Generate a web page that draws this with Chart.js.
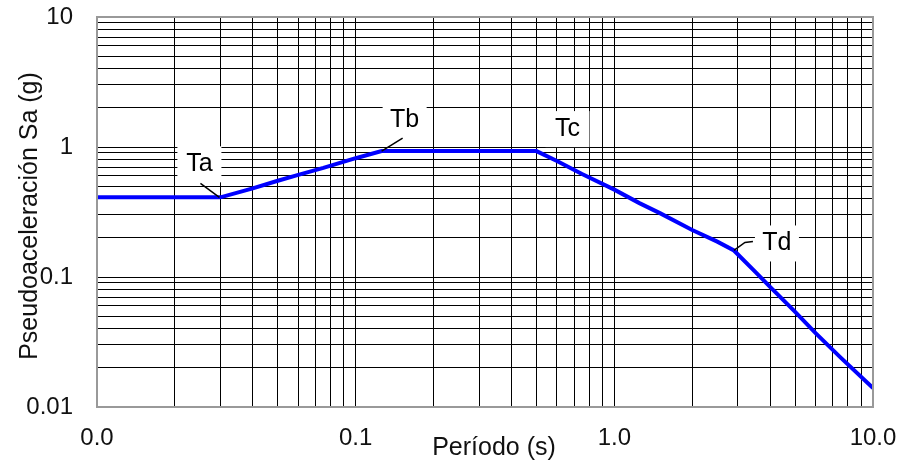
<!DOCTYPE html>
<html>
<head>
<meta charset="utf-8">
<script src="https://cdn.jsdelivr.net/npm/chart.js"></script>
<style>
  html, body { margin: 0; padding: 0; background: #fff; }
  #wrap { width: 900px; height: 463px; }
</style>
</head>
<body>
<div id="wrap"><canvas id="espectro"></canvas></div>
<script>
// Espectro de diseño (log-log)
const periodos   = [0.01, 0.02, 0.03, 0.04, 0.05, 0.06, 0.075, 0.1, 0.126, 0.2, 0.3, 0.4, 0.5,
                    0.6, 0.75, 1.0, 1.25, 1.5, 2.0, 2.5, 2.9, 3.5, 4.0, 5.0, 6.0, 7.5, 10.0];
const pseudoAcel = [0.41, 0.41, 0.41, 0.48, 0.55, 0.61, 0.69, 0.82, 0.93, 0.93, 0.93, 0.93, 0.93,
                    0.78, 0.62, 0.47, 0.37, 0.31, 0.23, 0.187, 0.16, 0.11, 0.084, 0.054, 0.037, 0.024, 0.014];

// puntos de quiebre
const puntosNombre  = ['Ta', 'Tb', 'Tc', 'Td'];
const puntosPeriodo = [0.03, 0.126, 0.5, 2.9];
const puntosSa      = [0.41, 0.93, 0.93, 0.16];

// etiquetas de los ejes
const xTickValores = [0.01, 0.1, 1, 10];
const xTickTextos  = ['0.0', '0.1', '1.0', '10.0'];
const yTickValores = [0.01, 0.1, 1, 10];
const yTickTextos  = ['0.01', '0.1', '1', '10'];

const decadas = [0.01, 0.1, 1];
const lineasGrilla = [];
decadas.forEach(d => { for (let k = 1; k <= 9; k++) lineasGrilla.push(+(d * k).toPrecision(3)); });
lineasGrilla.push(10);

const fuente = '"Liberation Sans", Arial, sans-serif';

// desplazamientos de las etiquetas respecto del punto (px)
const estiloEtiquetas = [
  { dx: -21, dy: -33, guia: [[-20, -14], [-1, 0]] },
  { dx: 23,  dy: -31, guia: [[21, -13], [0, 0]] },
  { dx: 31,  dy: -22, guia: null },
  { dx: 43,  dy: -7,  guia: [[19, -9], [11, -8], [0, 0]] }
];

const etiquetaDe = (valores, textos) => (value) => {
  const i = valores.findIndex(v => Math.abs(v - value) < 1e-9);
  return i >= 0 ? textos[i] : '';
};

const sinRelleno = s => { s.paddingTop = 0; s.paddingBottom = 0; s.paddingLeft = 0; s.paddingRight = 0; };

const plugDecoracion = {
  id: 'decoracion',
  afterDatasetsDraw(chart) {
    const { ctx, chartArea: a, scales: { x, y } } = chart;
    ctx.save();
    // marco
    ctx.strokeStyle = '#999';
    ctx.lineWidth = 2;
    ctx.strokeRect(a.left, a.top, a.right - a.left, a.bottom - a.top);

    // etiquetas Ta..Td
    ctx.font = '25px ' + fuente;
    ctx.textAlign = 'center';
    ctx.textBaseline = 'middle';
    puntosNombre.forEach((nom, i) => {
      const px = x.getPixelForValue(puntosPeriodo[i]);
      const py = y.getPixelForValue(puntosSa[i]);
      const st = estiloEtiquetas[i];
      const cx = px + st.dx, cy = py + st.dy;
      ctx.fillStyle = '#fff';
      ctx.fillRect(cx - 22, cy - 18, 44, 36);
      ctx.fillStyle = '#000';
      ctx.fillText(nom, cx, cy);
      if (st.guia) {
        ctx.strokeStyle = '#000';
        ctx.lineWidth = 1.5;
        ctx.beginPath();
        st.guia.forEach((p, j) => {
          if (j === 0) ctx.moveTo(px + p[0], py + p[1]);
          else ctx.lineTo(px + p[0], py + p[1]);
        });
        ctx.stroke();
      }
    });

    // titulos de ejes
    ctx.fillStyle = '#111';
    ctx.textBaseline = 'alphabetic';
    ctx.fillText('Período (s)', 494, 455);
    ctx.translate(37, 216);
    ctx.rotate(-Math.PI / 2);
    ctx.fillText('Pseudoaceleración Sa (g)', 0, 0);
    ctx.restore();
  }
};

const config = {
  type: 'line',
  data: {
    datasets: [{
      data: periodos.map((t, i) => ({ x: t, y: pseudoAcel[i] })),
      borderColor: '#0000ff',
      borderWidth: 4,
      pointRadius: 0,
      tension: 0,
      fill: false
    }]
  },
  options: {
    responsive: true,
    maintainAspectRatio: false,
    animation: false,
    devicePixelRatio: 1,
    layout: { padding: { left: 0, right: 27, top: 17, bottom: 0 } },
    plugins: { legend: { display: false }, tooltip: { enabled: false } },
    scales: {
      x: {
        type: 'logarithmic',
        min: 0.01,
        max: 10,
        afterBuildTicks: s => { s.ticks = lineasGrilla.map(v => ({ value: v })); },
        afterFit: s => { s.height = 56; sinRelleno(s); },
        grid: { color: '#000', lineWidth: 1, drawTicks: false },
        border: { display: false },
        ticks: {
          autoSkip: false, maxRotation: 0, minRotation: 0, padding: 17,
          color: '#111', font: { family: fuente, size: 24 },
          callback: etiquetaDe(xTickValores, xTickTextos)
        }
      },
      y: {
        type: 'logarithmic',
        min: 0.01,
        max: 10,
        afterBuildTicks: s => { s.ticks = lineasGrilla.map(v => ({ value: v })); },
        afterFit: s => { s.width = 97; sinRelleno(s); },
        grid: { color: '#000', lineWidth: 1, drawTicks: false },
        border: { display: false },
        ticks: {
          autoSkip: false, padding: 24,
          color: '#111', font: { family: fuente, size: 24 },
          callback: etiquetaDe(yTickValores, yTickTextos)
        }
      }
    }
  },
  plugins: [plugDecoracion]
};

new Chart(document.getElementById('espectro'), config);
</script>
</body>
</html>
